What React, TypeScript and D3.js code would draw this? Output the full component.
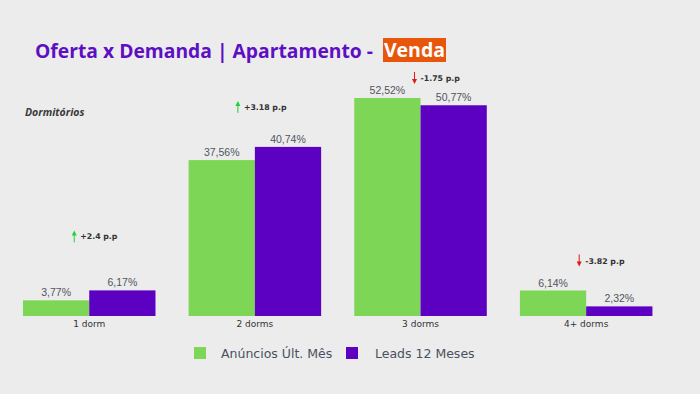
import React from "react";
import * as d3 from "d3";

const categories = ["1 dorm", "2 dorms", "3 dorms", "4+ dorms"];
const anuncios = [3.77, 37.56, 52.52, 6.14];
const leads = [6.17, 40.74, 50.77, 2.32];
const deltas = ["+2.4 p.p", "+3.18 p.p", "-1.75 p.p", "-3.82 p.p"];
const seriesNames = ["Anúncios Últ. Mês", "Leads 12 Meses"];

// hand-placed offsets of the delta notes (from group center, from tallest bar top)
const noteOffsets = [
  { dx: -15, dy: -54 },
  { dx: -17, dy: -40 },
  { dx: -6, dy: -20 },
  { dx: -7, dy: -30 },
];

const W = 700;
const H = 394;
const GREEN = "#7ed657";
const PURPLE = "#5c00c2";
const BG = "#ececec";

const fmt = (v: number) => v.toFixed(2).replace(".", ",") + "%";

export default function App() {
  const baseline = 316;
  const x = d3
    .scaleBand()
    .domain(categories)
    .range([6.4, 669])
    .paddingInner(0.2)
    .paddingOuter(0.1);
  const sub = d3
    .scaleBand()
    .domain(["a", "l"])
    .range([0, x.bandwidth()]);
  const y = d3.scaleLinear().domain([0, 52.52]).range([baseline, 98]);

  const series = [
    { key: "a", values: anuncios, color: GREEN },
    { key: "l", values: leads, color: PURPLE },
  ];

  return (
    <svg
      width={W}
      height={H}
      style={{ position: "fixed", left: 0, top: 0, background: BG }}
    >
      <rect width={W} height={H} fill={BG} />
      <text
        x={35}
        y={58}
        fontFamily="'Open Sans', sans-serif"
        fontWeight={700}
        fontSize={19.3}
        fill="#5e0fc4"
      >
        Oferta x Demanda | Apartamento -
      </text>
      <rect x={383} y={38} width={63} height={24} fill="#e8560c" />
      <text
        x={414.5}
        y={57}
        textAnchor="middle"
        fontFamily="'Open Sans', sans-serif"
        fontWeight={700}
        fontSize={19.5}
        fill="#ffffff"
      >
        Venda
      </text>
      <text
        x={25}
        y={115.5}
        fontFamily="'Open Sans', sans-serif"
        fontStyle="italic"
        fontWeight={700}
        fontSize={10.5}
        fill="#3a3a3a"
      >
        Dormitórios
      </text>

      {categories.map((c, i) => {
        const gx = x(c) as number;
        const center = gx + x.bandwidth() / 2;
        const top = Math.min(y(anuncios[i]), y(leads[i]));
        const up = deltas[i].startsWith("+");
        const ax = center + noteOffsets[i].dx;
        const ay = top + noteOffsets[i].dy;
        const col = up ? "#1ed33a" : "#e01818";
        return (
          <g key={c}>
            {series.map((s) => {
              const bx = gx + (sub(s.key) as number);
              const by = y(s.values[i]);
              return (
                <g key={s.key}>
                  <rect
                    x={bx}
                    y={by}
                    width={sub.bandwidth()}
                    height={baseline - by}
                    fill={s.color}
                  />
                  <text
                    x={bx + sub.bandwidth() / 2}
                    y={by - 4}
                    textAnchor="middle"
                    fontFamily="'Liberation Sans', Arial, sans-serif"
                    fontSize={10.5}
                    fill="#505560"
                  >
                    {fmt(s.values[i])}
                  </text>
                </g>
              );
            })}
            <text
              x={center}
              y={327}
              textAnchor="middle"
              fontFamily="'DejaVu Sans', sans-serif"
              fontSize={9}
              fill="#333"
            >
              {c}
            </text>
            {up ? (
              <g>
                <line x1={ax} y1={ay + 6} x2={ax} y2={ay - 2} stroke={col} strokeWidth={1} />
                <path d={`M${ax - 2.5},${ay - 1} L${ax},${ay - 6} L${ax + 2.5},${ay - 1} Z`} fill={col} />
              </g>
            ) : (
              <g>
                <line x1={ax} y1={ay - 6} x2={ax} y2={ay + 2} stroke={col} strokeWidth={1} />
                <path d={`M${ax - 2.5},${ay + 1} L${ax},${ay + 6} L${ax + 2.5},${ay + 1} Z`} fill={col} />
              </g>
            )}
            <text
              x={ax + 6}
              y={ay + 3}
              fontFamily="'DejaVu Sans', sans-serif"
              fontWeight={700}
              fontSize={7.8}
              fill="#333"
            >
              {deltas[i]}
            </text>
          </g>
        );
      })}

      <g>
        <rect x={194} y={347} width={12} height={12} fill={GREEN} />
        <text
          x={221}
          y={357.5}
          fontFamily="'DejaVu Sans', sans-serif"
          fontSize={12.5}
          fill="#4a5060"
        >
          {seriesNames[0]}
        </text>
        <rect x={346} y={347} width={12} height={12} fill={PURPLE} />
        <text
          x={375}
          y={357.5}
          fontFamily="'DejaVu Sans', sans-serif"
          fontSize={12.5}
          fill="#4a5060"
        >
          {seriesNames[1]}
        </text>
      </g>
    </svg>
  );
}
